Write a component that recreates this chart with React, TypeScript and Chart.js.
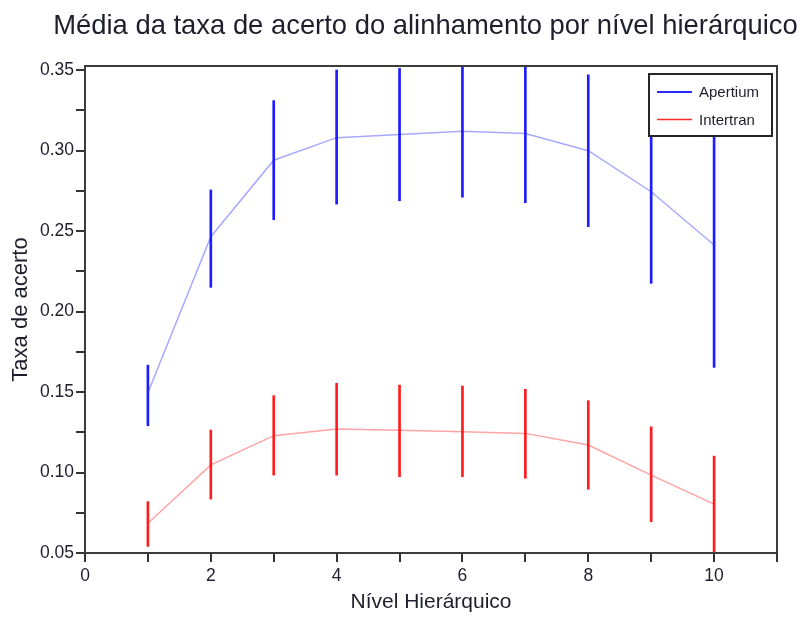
import React, { useEffect, useRef } from "react";
import { Chart, registerables } from "chart.js";

Chart.register(...registerables);

// ---- data ----
const chartTitle = "Média da taxa de acerto do alinhamento por nível hierárquico";
const xAxisTitle = "Nível Hierárquico";
const yAxisTitle = "Taxa de acerto";

const levels = [1, 2, 3, 4, 5, 6, 7, 8, 9, 10];

const apertiumMean = [0.1495, 0.2465, 0.294, 0.308, 0.31, 0.312, 0.3106, 0.2999, 0.2744, 0.2413];
const apertiumLow = [0.129, 0.215, 0.257, 0.2667, 0.2688, 0.271, 0.2676, 0.2527, 0.2175, 0.1653];
const apertiumHigh = [0.1667, 0.2755, 0.331, 0.35, 0.351, 0.353, 0.3536, 0.347, 0.331, 0.317];

const intertranMean = [0.0685, 0.1047, 0.1229, 0.127, 0.1262, 0.1253, 0.1243, 0.1171, 0.0984, 0.0804];
const intertranLow = [0.0541, 0.0835, 0.0984, 0.0984, 0.0974, 0.0974, 0.0964, 0.0896, 0.0694, 0.0506];
const intertranHigh = [0.0819, 0.1264, 0.1477, 0.1554, 0.1543, 0.1537, 0.1517, 0.1446, 0.1284, 0.1102];

const seriesNames = ["Apertium", "Intertran"];

const xMin = 0;
const xMax = 11;
const yMin = 0.05;
const yMax = 0.3525;

// ---- styles ----
const FONT = '"Liberation Sans", Arial, sans-serif';
const TEXT_COLOR = "#1e1e2c";
const barColors = ["#1c1cff", "#ff1c1c"];
const lineColors = ["#a8a8ff", "#ffa4a4"];
const legendColors = ["#2a2aff", "#ff2a2a"];

const CANVAS_W = 790;
const CANVAS_H = 606;

const decorPlugin = {
  id: "decor",
  afterDatasetsDraw(chart: any) {
    const { ctx, chartArea: a } = chart;
    ctx.save();
    // frame
    ctx.strokeStyle = "#3c3c3c";
    ctx.lineWidth = 2;
    ctx.strokeRect(a.left, a.top, a.right - a.left, a.bottom - a.top);

    // legend
    const boxW = 123;
    const boxH = 62;
    const bx = a.right - 5 - boxW;
    const by = a.top + 8;
    ctx.fillStyle = "#ffffff";
    ctx.fillRect(bx, by, boxW, boxH);
    ctx.strokeStyle = "#262626";
    ctx.lineWidth = 2;
    ctx.strokeRect(bx, by, boxW, boxH);
    ctx.font = `15px ${FONT}`;
    ctx.textBaseline = "middle";
    ctx.textAlign = "left";
    seriesNames.forEach((name, i) => {
      const y = by + 18 + i * 27.5;
      ctx.strokeStyle = legendColors[i];
      ctx.lineWidth = i === 0 ? 2 : 1.6;
      ctx.beginPath();
      ctx.moveTo(bx + 8, y);
      ctx.lineTo(bx + 43, y);
      ctx.stroke();
      ctx.fillStyle = TEXT_COLOR;
      ctx.fillText(name, bx + 50, y + 1);
    });

    // title
    ctx.font = `27.4px ${FONT}`;
    ctx.fillStyle = TEXT_COLOR;
    ctx.textAlign = "center";
    ctx.textBaseline = "alphabetic";
    ctx.fillText(chartTitle, (a.left + a.right) / 2 - 5.5, 25.5);
    ctx.restore();
  },
};

export default function App() {
  const canvasRef = useRef<HTMLCanvasElement | null>(null);

  useEffect(() => {
    const canvas = canvasRef.current;
    if (!canvas) return;

    const means = [apertiumMean, intertranMean];
    const lows = [apertiumLow, intertranLow];
    const highs = [apertiumHigh, intertranHigh];

    const datasets: any[] = [];
    seriesNames.forEach((name, s) => {
      datasets.push({
        type: "line",
        label: name,
        data: levels.map((x, i) => ({ x, y: means[s][i] })),
        borderColor: lineColors[s],
        backgroundColor: lineColors[s],
        borderWidth: 1.5,
        pointRadius: 0,
        tension: 0,
        fill: false,
        order: 2,
      });
      datasets.push({
        type: "bar",
        label: name + " erro",
        data: levels.map((x, i) => ({ x, y: [lows[s][i], highs[s][i]] })),
        backgroundColor: barColors[s],
        borderWidth: 0,
        barThickness: 2,
        grouped: false,
        order: 1,
      });
    });

    const chart = new Chart(canvas, {
      type: "line",
      data: { datasets },
      plugins: [decorPlugin],
      options: {
        responsive: false,
        animation: false,
        devicePixelRatio: 1,
        layout: { padding: { top: 58, right: 21, left: 0, bottom: 0 } },
        plugins: {
          legend: { display: false },
          title: { display: false },
          tooltip: { enabled: false },
        },
        scales: {
          x: {
            type: "linear",
            min: xMin,
            max: xMax,
            offset: false,
            border: { display: false },
            grid: {
              drawOnChartArea: false,
              drawTicks: true,
              tickLength: 9,
              lineWidth: 2,
              color: "#333333",
              offset: false,
            },
            ticks: {
              stepSize: 1,
              autoSkip: false,
              maxRotation: 0,
              padding: 4,
              color: TEXT_COLOR,
              font: { family: FONT, size: 17.5 },
              callback: (v: any) => (Number(v) % 2 === 0 ? String(v) : ""),
            },
            title: {
              display: true,
              text: xAxisTitle,
              color: TEXT_COLOR,
              font: { family: FONT, size: 21 },
              padding: { top: 4, bottom: -1 },
            },
            afterFit: (s: any) => {
              s.height = 61;
            },
          },
          y: {
            type: "linear",
            min: yMin,
            max: yMax,
            border: { display: false },
            grid: {
              drawOnChartArea: false,
              drawTicks: true,
              tickLength: 9,
              lineWidth: 2,
              color: "#333333",
            },
            ticks: {
              stepSize: 0.025,
              includeBounds: false,
              autoSkip: false,
              padding: 2,
              color: TEXT_COLOR,
              font: { family: FONT, size: 17.5 },
              callback: (v: any) => {
                const n = Number(v);
                const r = n / 0.05;
                return Math.abs(r - Math.round(r)) < 1e-6 ? n.toFixed(2) : "";
              },
            },
            title: {
              display: true,
              text: yAxisTitle,
              color: TEXT_COLOR,
              font: { family: FONT, size: 22 },
              padding: { top: 0, bottom: 0 },
            },
            afterFit: (s: any) => {
              s.width = 77;
            },
          },
        },
      } as any,
    });

    return () => chart.destroy();
  }, []);

  return (
    <div style={{ width: CANVAS_W, height: CANVAS_H }}>
      <canvas ref={canvasRef} width={CANVAS_W} height={CANVAS_H} style={{ display: "block" }} />
    </div>
  );
}
